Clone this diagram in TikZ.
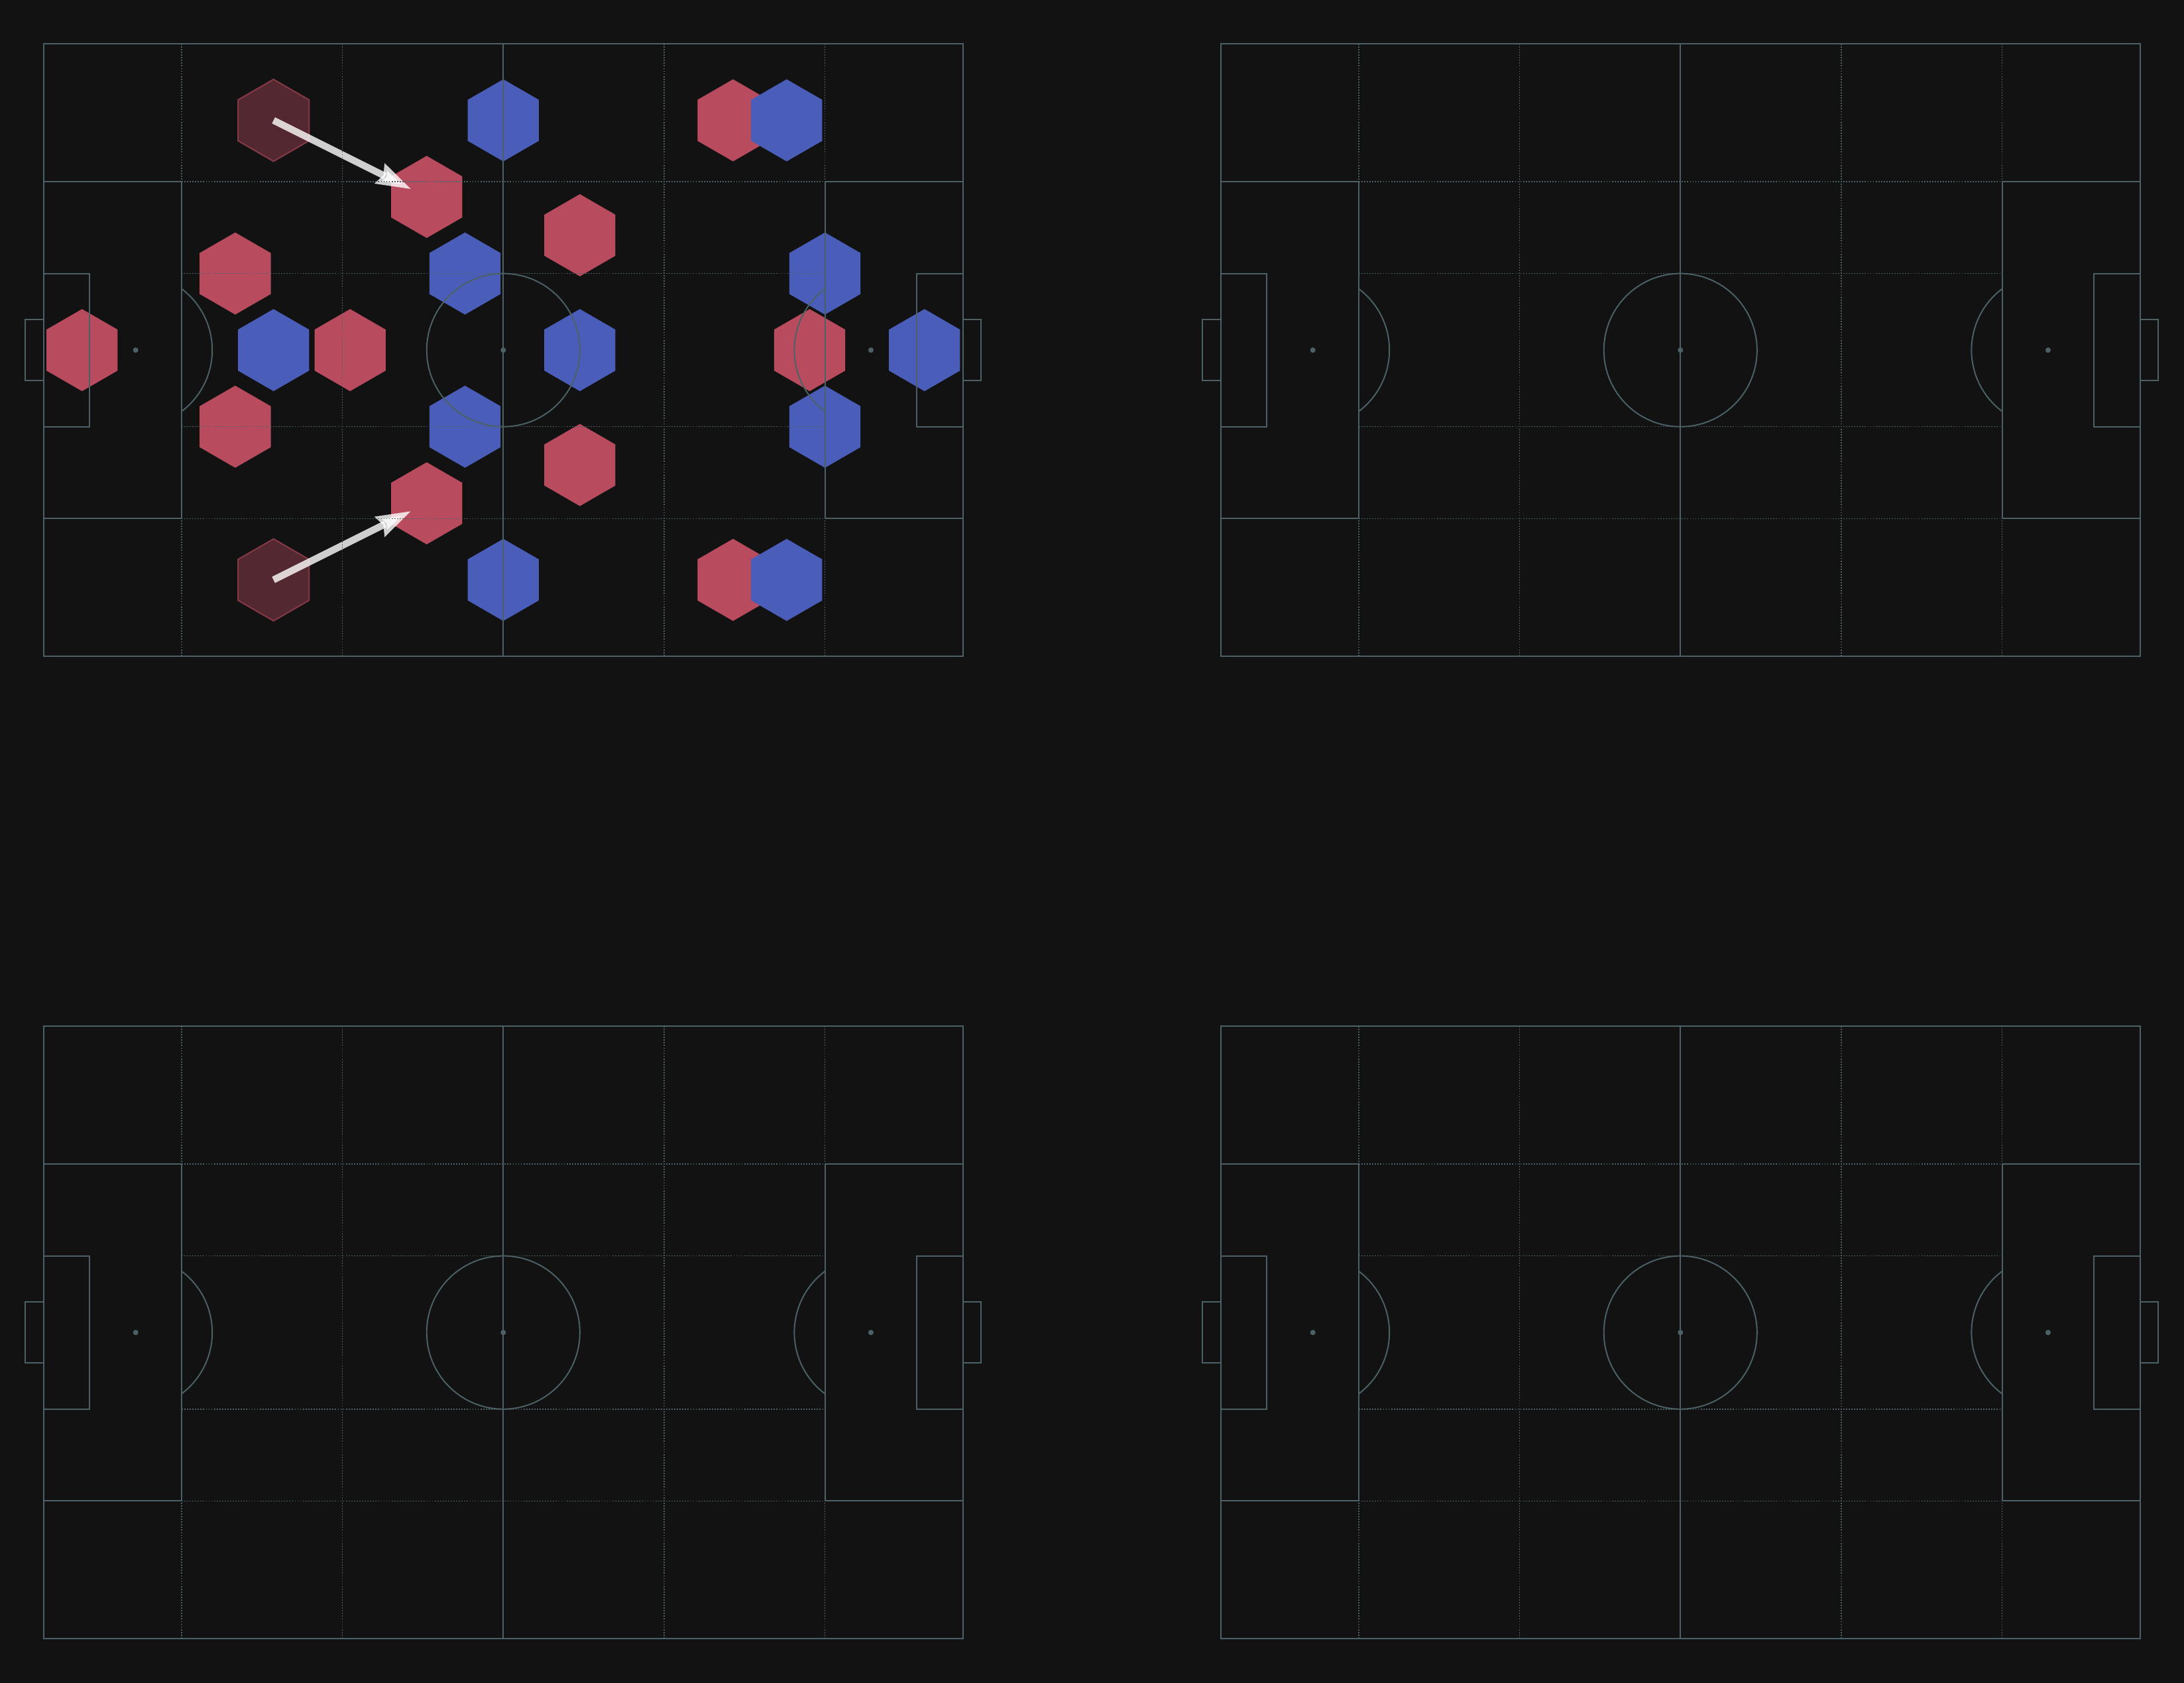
\documentclass[tikz,border=0pt]{standalone}
\usepackage{tikz}
\usetikzlibrary{shapes.geometric,arrows.meta,calc}

\definecolor{bgdark}{HTML}{121212}
\definecolor{linegrey}{HTML}{4B6166}
\definecolor{hexred}{HTML}{B94B5E}
\definecolor{hexblue}{HTML}{4A5EB9}

\tikzset{
  pitchline/.style={draw=linegrey, line width=1.2pt},
  posline/.style={draw=linegrey, line width=0.9pt, dash pattern=on 1.1pt off 1.4pt},
  hexcell/.style={regular polygon, regular polygon sides=6, shape border rotate=30,
    minimum size=2.68cm, inner sep=0pt, outer sep=0pt},
  redhex/.style={hexcell, fill=hexred},
  bluehex/.style={hexcell, fill=hexblue},
  ghosthex/.style={hexcell, fill=hexred, fill opacity=0.4, draw=hexred, draw opacity=0.6, line width=1.2pt},
  passarrow/.style={draw=white, opacity=0.8, line width=6.4pt,
    -{Stealth[length=32pt, width=19.5pt, inset=3pt]}}
}

\begin{document}
\begin{tikzpicture}[x=0.25cm, y=-0.25cm]
% background and margins
\fill[bgdark] (-5.712,-5.712) rectangle (279.45,214.02);

% players, first pitch only
\node[ghosthex] (g1) at (30,10) {};
\node[ghosthex] (g2) at (30,70) {};
\foreach \n/\x/\y in {r1/90/10, r2/50/20, r3/70/25, r4/25/30, r5/5/40, r6/40/40,
  r7/100/40, r8/25/50, r9/70/55, r10/50/60, r11/90/70}
{
\node[redhex] (\n) at (\x,\y) {};
}
\foreach \n/\x/\y in {b1/60/10, b2/97/10, b3/55/30, b4/102/30, b5/30/40, b6/70/40,
  b7/115/40, b8/55/50, b9/102/50, b10/60/70, b11/97/70}
{
\node[bluehex] (\n) at (\x,\y) {};
}

% passes
\draw[passarrow] (g1.center) -- ($(g1.center)!0.9!(r2.center)$);
\draw[passarrow] (g2.center) -- ($(g2.center)!0.9!(r10.center)$);

% the four pitches
\foreach \px/\py in {0/0, 153.70/0, 0/128.26, 153.70/128.26}
{
\begin{scope}[shift={(\px,\py)}]
% positional lines
\foreach \x in {18,39,81,102}
  \draw[posline] (\x,0) -- (\x,80);
\foreach \y in {18,30,50,62}
  \draw[posline] (18,\y) -- (102,\y);
% markings
\draw[pitchline] (0,0) rectangle (120,80);
\draw[pitchline] (60,0) -- (60,80);
\draw[pitchline] (60,40) circle[radius=10];
\draw[pitchline] (0,18) rectangle (18,62);
\draw[pitchline] (102,18) rectangle (120,62);
\draw[pitchline] (0,30) rectangle (6,50);
\draw[pitchline] (114,30) rectangle (120,50);
\draw[pitchline] (-2.4,36) rectangle (0,44);
\draw[pitchline] (120,36) rectangle (122.4,44);
\draw[pitchline] (18,32) arc[start angle=-53.13, end angle=53.13, radius=10];
\draw[pitchline] (102,32) arc[start angle=233.13, end angle=126.87, radius=10];
\foreach \x in {12,60,108}
  \fill[linegrey] (\x,40) circle[radius=0.35];
\end{scope}
}
\end{tikzpicture}
\end{document}
